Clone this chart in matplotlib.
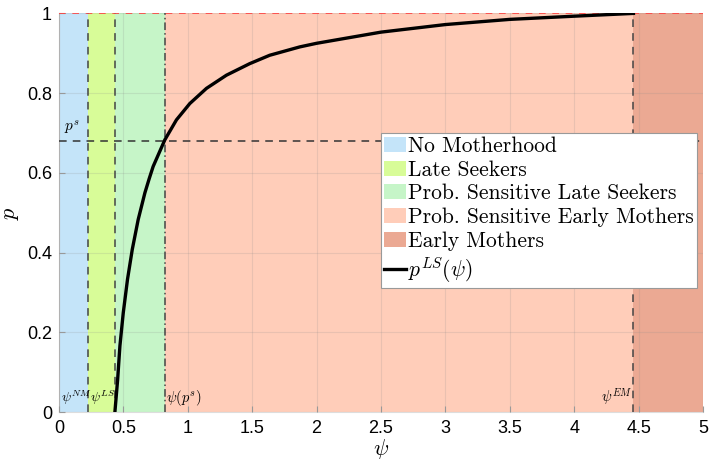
import matplotlib
matplotlib.use("Agg")
from matplotlib import pyplot as plt

plt.rcParams['mathtext.fontset'] = 'cm'
plt.rcParams['font.family'] = ['Liberation Sans', 'DejaVu Sans']

# thresholds on psi
psi_nm = 0.225
psi_ls = 0.434
psi_ps = 0.822
psi_em = 4.46
p_s = 0.68

# p^LS(psi)
psi = [0.434, 0.455, 0.473, 0.499, 0.532, 0.569, 0.615, 0.667, 0.70, 0.731,
       0.822, 0.912, 1.016, 1.145, 1.30, 1.481, 1.636, 1.87, 2.0, 2.5, 3.0,
       3.5, 4.0, 4.46]
p_ls = [0.0, 0.08, 0.166, 0.249, 0.333, 0.408, 0.483, 0.55, 0.585, 0.616,
        0.683, 0.733, 0.774, 0.812, 0.845, 0.874, 0.895, 0.916, 0.925, 0.953,
        0.972, 0.985, 0.993, 1.0]

regions = [
    ("No Motherhood", 0, psi_nm, "#c4e4f9"),
    ("Late Seekers", psi_nm, psi_ls, "#d8fc98"),
    ("Prob. Sensitive Late Seekers", psi_ls, psi_ps, "#c6f5c8"),
    ("Prob. Sensitive Early Mothers", psi_ps, psi_em, "#ffcdb9"),
    ("Early Mothers", psi_em, 5, "#eba993"),
]

fig = plt.figure(figsize=(7.09, 4.62), dpi=100)
ax = fig.add_axes([0.0832, 0.108, 0.9083, 0.863])

for name, a, b, c in regions:
    ax.axvspan(a, b, color=c, lw=0, label=name, zorder=0)

ax.plot(psi, p_ls, color="black", lw=2.4, label=r"$p^{LS}(\psi)$", zorder=5,
        solid_joinstyle="round")

ax.axhline(1, color="#ff4040", ls=(0, (4, 4)), lw=1.2, zorder=4)
ax.axhline(p_s, color="#333333", ls=(0, (5, 4)), lw=1.1, zorder=4)
for x in (psi_nm, psi_ls, psi_em):
    ax.axvline(x, color="#444444", ls=(0, (5, 4)), lw=1.1, zorder=4)
ax.axvline(psi_ps, color="#444444", ls=(0, (5, 2, 1, 2)), lw=1.1, zorder=4)

ax.text(0.04, 0.705, r"$p^s$", fontsize=11, zorder=6)
ax.text(0.015, 0.025, r"$\psi^{NM}$", fontsize=10, zorder=6)
ax.text(psi_nm + 0.015, 0.025, r"$\psi^{LS}$", fontsize=10, zorder=6)
ax.text(psi_ps + 0.01, 0.025, r"$\psi(p^s)$", fontsize=10.5, zorder=6)
ax.text(psi_em - 0.01, 0.025, r"$\psi^{EM}$", fontsize=10.5, ha="right", zorder=6)

ax.set_xlim(0, 5)
ax.set_ylim(0, 1)
ax.set_xticks([0, 0.5, 1, 1.5, 2, 2.5, 3, 3.5, 4, 4.5, 5])
ax.set_xticklabels(["0", "0.5", "1", "1.5", "2", "2.5", "3", "3.5", "4", "4.5", "5"])
ax.set_yticks([0, 0.2, 0.4, 0.6, 0.8, 1])
ax.set_yticklabels(["0", "0.2", "0.4", "0.6", "0.8", "1"])
ax.tick_params(direction="in", labelsize=13, color="#999999", length=4)
ax.tick_params(axis="x", pad=6)
ax.tick_params(axis="y", pad=5)
ax.set_axisbelow(False)
ax.grid(True, color="#888888", alpha=0.18, lw=0.8, zorder=3)
for s in ax.spines.values():
    s.set_visible(False)
ax.spines["left"].set_visible(True)
ax.spines["bottom"].set_visible(True)
ax.spines["left"].set_color("#bbbbbb")
ax.spines["bottom"].set_color("#dddddd")

ax.set_xlabel(r"$\psi$", fontsize=16, labelpad=0)
ax.set_ylabel(r"$p$", fontsize=16, labelpad=4)

leg = ax.legend(loc="upper left", bbox_to_anchor=(0.5, 0.70), prop={"family": "cmr10", "size": 15.5},
                fancybox=False, framealpha=1, edgecolor="#999999", handlelength=1.0,
                handletextpad=0.12, borderpad=0.15, labelspacing=0.2, borderaxespad=0)
leg.get_frame().set_linewidth(0.8)
leg.set_zorder(10)

fig.savefig("out.png", dpi=100)
